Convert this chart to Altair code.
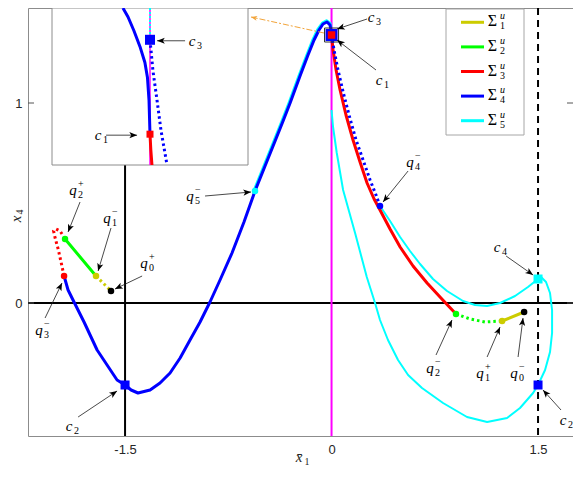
import math
import altair as alt
import pandas as pd

# ---------------- values (x̄1, x4) ----------------
# Σ4 (blue) solid branch: q3- -> c2 -> ... -> peak -> c1
S4_x = [-1.943, -1.914, -1.878, -1.798, -1.703, -1.558, -1.5, -1.456, -1.406, -1.318, -1.246,
        -1.173, -1.100, -1.028, -0.955, -0.883, -0.810, -0.723, -0.636, -0.556, -0.483, -0.410,
        -0.352, -0.301, -0.229, -0.171, -0.127, -0.091, -0.062, -0.033, -0.011, 0.0, 0.0]
S4_y = [0.135, 0.065, 0.015, -0.095, -0.235, -0.385, -0.41, -0.435, -0.45, -0.435, -0.40,
        -0.35, -0.275, -0.185, -0.095, 0.005, 0.115, 0.25, 0.405, 0.56, 0.685, 0.81,
        0.91, 1.0, 1.135, 1.24, 1.315, 1.365, 1.395, 1.405, 1.39, 1.35, 1.34]
# Σ4 dotted branch: c3 -> q4-
S4d_x = [0.0, 0.018, 0.047, 0.084, 0.127, 0.178, 0.229, 0.280, 0.323, 0.352]
S4d_y = [1.34, 1.265, 1.165, 1.055, 0.94, 0.815, 0.715, 0.615, 0.54, 0.485]
# Σ3 (red) solid: c1 -> q2-
S3_x = [0.0, 0.011, 0.033, 0.062, 0.105, 0.156, 0.207, 0.258, 0.309, 0.352, 0.425, 0.498,
        0.592, 0.694, 0.788, 0.904]
S3_y = [1.34, 1.265, 1.165, 1.065, 0.94, 0.815, 0.705, 0.60, 0.52, 0.465, 0.37, 0.28,
        0.185, 0.10, 0.03, -0.055]
# Σ3 dotted (left)
S3d_x = [-1.943, -1.965, -1.986, -2.008, -2.019, -2.001, -1.972, -1.958]
S3d_y = [0.135, 0.205, 0.27, 0.325, 0.36, 0.37, 0.36, 0.345]
# Σ2 (green)
S2_x = [-1.936, -1.711]
S2_y = [0.32, 0.135]
S2d_x = [0.904, 1.006, 1.115, 1.239]
S2d_y = [-0.055, -0.08, -0.095, -0.09]
# Σ1 (yellow)
S1_x = [1.239, 1.399]
S1_y = [-0.09, -0.045]
S1d_x = [-1.711, -1.602]
S1d_y = [0.135, 0.06]
# Σ5 (cyan): left branch q5- -> peak, right loop
S5a_x = [-0.568, -0.495, -0.422, -0.364, -0.313, -0.241, -0.183, -0.139, -0.102, -0.068,
         -0.035, -0.008, 0.0]
S5a_y = [0.56, 0.685, 0.81, 0.91, 1.0, 1.135, 1.24, 1.317, 1.37, 1.402, 1.414, 1.40, 1.375]
S5b_x = [0.0, 0.011, 0.038, 0.084, 0.171, 0.256, 0.316, 0.352, 0.410, 0.483, 0.556, 0.657,
         0.810, 0.984, 1.130, 1.275, 1.369, 1.464, 1.5, 1.551, 1.587, 1.602, 1.602, 1.587,
         1.558, 1.522, 1.5, 1.427, 1.333, 1.224, 1.130, 1.042, 0.955, 0.839, 0.737, 0.643,
         0.570, 0.498, 0.425, 0.352]
S5b_y = [0.965, 0.88, 0.75, 0.565, 0.35, 0.13, 0.0, -0.085, -0.185, -0.285, -0.36, -0.425,
         -0.50, -0.57, -0.595, -0.575, -0.525, -0.45, -0.41, -0.335, -0.245, -0.15, -0.035, 0.05,
         0.105, 0.13, 0.12, 0.08, 0.035, 0.0, -0.015, -0.01, 0.01, 0.06, 0.12, 0.195,
         0.26, 0.33, 0.41, 0.485]

YEL, GRN, RED, BLU, CYA, MAG, BLK = "#cccc00", "#00ff00", "#ff0000", "#0000ff", "#00ffff", "#ff00ff", "#000000"

# special points q
Q_x = [-1.602, 1.399, -1.711, 1.239, -1.936, 0.904, -1.943, 0.352, -0.556]
Q_y = [0.06, -0.045, 0.135, -0.09, 0.32, -0.055, 0.135, 0.485, 0.56]
Q_col = [BLK, BLK, YEL, YEL, GRN, GRN, RED, BLU, CYA]
# corner points c
C_x = [0.0, 0.0, -1.5, 1.5, 1.5]
C_y = [1.34, 1.34, -0.41, -0.41, 0.12]
C_size = [144, 56, 81, 81, 81]
C_col = [BLU, RED, BLU, BLU, CYA]

# annotations: label position, arrow start, arrow tip
A_base = ["q", "q", "q", "q", "c", "q", "q", "c", "c", "c", "q", "q", "q", "c"]
A_sup = ["+", "−", "+", "−", "", "−", "−", "", "", "", "−", "+", "−", ""]
A_sub = ["2", "1", "0", "3", "2", "5", "4", "3", "1", "4", "2", "1", "0", "2"]
A_lx = [-1.856, -1.609, -1.340, -2.103, -1.885, -1.006, 0.592, 0.309, 0.367, 1.224, 0.737, 1.100, 1.347, 1.703]
A_ly = [0.565, 0.425, 0.20, -0.135, -0.615, 0.535, 0.705, 1.43, 1.115, 0.28, -0.325, -0.35, -0.35, -0.585]
A_x0 = [-1.827, -1.602, -1.376, -2.081, -1.841, -0.919, 0.556, 0.258, 0.323, 1.268, 0.759, 1.130, 1.355, 1.667]
A_y0 = [0.505, 0.375, 0.135, -0.075, -0.57, 0.535, 0.66, 1.42, 1.165, 0.235, -0.26, -0.27, -0.27, -0.535]
A_x1 = [-1.914, -1.696, -1.573, -1.958, -1.558, -0.585, 0.374, 0.040, 0.040, 1.464, 0.875, 1.224, 1.391, 1.536]
A_y1 = [0.355, 0.16, 0.07, 0.10, -0.44, 0.555, 0.505, 1.37, 1.315, 0.14, -0.085, -0.12, -0.075, -0.435]

# zoom window and connector
ZOOM_X = [-0.051, 0.051]
ZOOM_Y = [1.305, 1.375]
CONN = [-0.055, 1.35, -0.585, 1.43]

# inset (magnified view around c1/c3)
IN_X = [-0.05, 0.05]
IN_Y = [1.30, 1.38]
IB_x = [-0.0138, -0.0112, -0.0082, -0.0051, -0.0026, -0.0013, -0.0005, 0.0]
IB_y = [1.38, 1.3754, 1.3684, 1.3603, 1.3522, 1.3446, 1.3329, 1.3157]
IR_x = [0.0, 0.0004, 0.001]
IR_y = [1.3157, 1.308, 1.30]
IBd_x = [0.0, 0.0015, 0.0036, 0.0056, 0.0087]
IBd_y = [1.3638, 1.348, 1.3329, 1.3177, 1.30]
IC_x = [0.0, 0.0]
IC_y = [1.38, 1.3638]
IS_x = [0.0, 0.0]
IS_y = [1.3638, 1.3157]
IS_size = [100, 49]
IS_col = [BLU, RED]
IA_sub = ["3", "1"]
IA_lx = [0.023, -0.025]
IA_ly = [1.3633, 1.3152]
IA_x0 = [0.0179, -0.0224]
IA_x1 = [0.0036, -0.0066]

LEG_sub = ["1", "2", "3", "4", "5"]
LEG_col = [YEL, GRN, RED, BLU, CYA]

X_TICKS = [-1.5, 0, 1.5]
Y_TICKS = [0, 1]

# ---------------- layout ----------------
W, H = 545, 428
XMIN, XMAX = -2.205, 1.754
YMIN, YMAX = -0.665, 1.475
SX = W / (XMAX - XMIN)
SY = H / (YMAX - YMIN)
IXR = [24, 220]
IYR = [157, 0]
ISX = (IXR[1] - IXR[0]) / (IN_X[1] - IN_X[0])
ISY = (IYR[0] - IYR[1]) / (IN_Y[1] - IN_Y[0])
ARROW = "M0,0L0.4,1L0,0.75L-0.4,1Z"
SERIF = "Liberation Serif"
SANS = "Liberation Sans"


def ang(x0, y0, x1, y1, sx, sy):
    dxp = (x1 - x0) * sx
    dyp = -(y1 - y0) * sy
    return math.degrees(math.atan2(dxp, -dyp)) % 360


LBL = ("datum.value === 0 ? '0' : (datum.value < 0 ? '-' + format(-datum.value, '.1~f') "
       ": format(datum.value, '.1~f'))")
XAX = alt.Axis(values=X_TICKS, labelExpr=LBL, ticks=False,
               domain=False, grid=False, labelFont=SANS, labelFontSize=13, labelColor="#262626",
               labelPadding=7)
YAX = alt.Axis(values=Y_TICKS, labelExpr=LBL, ticks=False, domain=False, grid=False, labelFont=SANS,
               labelFontSize=13, labelColor="#262626", labelPadding=6)


def X(f):
    return alt.X(f + ":Q", scale=alt.Scale(domain=[XMIN, XMAX], nice=False, zero=False), axis=XAX, title=None)


def Y(f):
    return alt.Y(f + ":Q", scale=alt.Scale(domain=[YMIN, YMAX], nice=False, zero=False), axis=YAX, title=None)


def IXe(f):
    return alt.X(f + ":Q", scale=alt.Scale(domain=IN_X, range=IXR, nice=False, zero=False), axis=None)


def IYe(f):
    return alt.Y(f + ":Q", scale=alt.Scale(domain=IN_Y, range=IYR, nice=False, zero=False), axis=None)


def PX(f):
    return alt.X(f + ":Q", scale=alt.Scale(domain=[0, W], range=[0, W], nice=False, zero=False), axis=None)


def PY(f):
    return alt.Y(f + ":Q", scale=alt.Scale(domain=[0, H], range=[0, H], nice=False, zero=False), axis=None)


def curves(specs):
    rows = []
    for name, xs, ys, col in specs:
        for i, (a, b) in enumerate(zip(xs, ys)):
            rows.append({"c": name, "i": i, "x": a, "y": b, "col": col})
    return pd.DataFrame(rows)


def line_layer(df, enc_x, enc_y, **kw):
    return alt.Chart(df).mark_line(**kw).encode(
        x=enc_x("x"), y=enc_y("y"), order="i:Q", detail="c:N",
        color=alt.Color("col:N", scale=None))


# ---------------- main group ----------------
hline = alt.Chart(pd.DataFrame({"y": [0.0]})).mark_rule(color="black", strokeWidth=2).encode(y=Y("y"))
vsolid = alt.Chart(pd.DataFrame({"x": [-1.5]})).mark_rule(color="black", strokeWidth=2).encode(x=X("x"))
vdash = alt.Chart(pd.DataFrame({"x": [1.5]})).mark_rule(color="black", strokeWidth=2, strokeDash=[7, 5]).encode(x=X("x"))
vmag = alt.Chart(pd.DataFrame({"x": [0.0]})).mark_rule(color=MAG, strokeWidth=2).encode(x=X("x"))

cyan = line_layer(curves([("a", S5a_x, S5a_y, CYA), ("b", S5b_x, S5b_y, CYA)]), X, Y,
                  strokeWidth=2, strokeJoin="round")
solid = line_layer(curves([("s4", S4_x, S4_y, BLU), ("s3", S3_x, S3_y, RED),
                           ("s2", S2_x, S2_y, GRN), ("s1", S1_x, S1_y, YEL)]), X, Y,
                   strokeWidth=3, strokeJoin="round", strokeCap="round")
dotted = line_layer(curves([("s4d", S4d_x, S4d_y, BLU), ("s3d", S3d_x, S3d_y, RED),
                            ("s2d", S2d_x, S2d_y, GRN), ("s1d", S1d_x, S1d_y, YEL)]), X, Y,
                    strokeWidth=3, strokeDash=[2.5, 3], strokeCap="butt")

zoombox = alt.Chart(pd.DataFrame({"x0": [ZOOM_X[0]], "x1": [ZOOM_X[1]], "y0": [ZOOM_Y[0]], "y1": [ZOOM_Y[1]]})).mark_rect(
    fillOpacity=0, stroke="#333333", strokeWidth=1).encode(x=X("x0"), x2=alt.X2("x1"), y=Y("y0"), y2=alt.Y2("y1"))

conn_df = pd.DataFrame({"x0": [CONN[0]], "y0": [CONN[1]], "x1": [CONN[2]], "y1": [CONN[3]],
                        "ang": [ang(*CONN, SX, SY)]})
conn_line = alt.Chart(conn_df).mark_rule(color="#f2a43a", strokeWidth=1, strokeDash=[6, 2, 2, 2]).encode(
    x=X("x0"), y=Y("y0"), x2=alt.X2("x1"), y2=alt.Y2("y1"))
conn_head = alt.Chart(conn_df).mark_point(shape=ARROW, filled=True, size=150, color="#f2a43a", opacity=1, strokeWidth=0).encode(
    x=X("x1"), y=Y("y1"), angle=alt.Angle("ang:Q", scale=None))

qpts = alt.Chart(pd.DataFrame({"x": Q_x, "y": Q_y, "col": Q_col})).mark_circle(size=42, opacity=1).encode(
    x=X("x"), y=Y("y"), color=alt.Color("col:N", scale=None))
cpts = alt.Chart(pd.DataFrame({"x": C_x, "y": C_y, "s": C_size, "col": C_col, "o": list(range(len(C_x)))})).mark_square(opacity=1).encode(
    x=X("x"), y=Y("y"), size=alt.Size("s:Q", scale=None), color=alt.Color("col:N", scale=None), order="o:Q")

ann = pd.DataFrame({"base": A_base, "sup": A_sup, "sub": A_sub, "lx": A_lx, "ly": A_ly,
                    "x0": A_x0, "y0": A_y0, "x1": A_x1, "y1": A_y1})
ann["ang"] = [ang(a, b, c, d, SX, SY) for a, b, c, d in zip(A_x0, A_y0, A_x1, A_y1)]
ann_line = alt.Chart(ann).mark_rule(color="#1a1a1a", strokeWidth=0.8).encode(
    x=X("x0"), y=Y("y0"), x2=alt.X2("x1"), y2=alt.Y2("y1"))
ann_head = alt.Chart(ann).mark_point(shape=ARROW, filled=True, size=240, color="black", opacity=1, strokeWidth=0).encode(
    x=X("x1"), y=Y("y1"), angle=alt.Angle("ang:Q", scale=None))
ann_base = alt.Chart(ann).mark_text(font=SERIF, fontStyle="italic", fontSize=15, dx=-3, align="center",
                                    baseline="middle", color="black").encode(x=X("lx"), y=Y("ly"), text="base:N")
ann_sup = alt.Chart(ann[ann["sup"] != ""]).mark_text(font=SERIF, fontSize=10, dx=2, dy=-6, align="left",
                                                     baseline="middle", color="black").encode(x=X("lx"), y=Y("ly"), text="sup:N")
ann_sub = alt.Chart(ann).mark_text(font=SERIF, fontSize=10, dx=2, dy=5, align="left",
                                   baseline="middle", color="black").encode(x=X("lx"), y=Y("ly"), text="sub:N")

tick_df = pd.DataFrame({"x0": [XMIN, XMAX - 6 / SX, XMIN, XMAX - 6 / SX],
                        "x1": [XMIN + 6 / SX, XMAX, XMIN + 6 / SX, XMAX],
                        "y": [1.0, 1.0, 0.0, 0.0]})
ticks = alt.Chart(tick_df).mark_rule(color="#555555", strokeWidth=1).encode(x=X("x0"), x2=alt.X2("x1"), y=Y("y"))

main = alt.layer(hline, vsolid, vdash, vmag, cyan, solid, dotted, zoombox, conn_line, conn_head,
                 qpts, cpts, ann_line, ann_head, ann_base, ann_sup, ann_sub, ticks)

# ---------------- pixel group: legend and axis titles ----------------
leg = pd.DataFrame({"sub": LEG_sub, "col": LEG_col})
leg["ly"] = [14.3 + 24.6 * i for i in range(len(LEG_sub))]
leg["lx0"] = 433
leg["lx1"] = 456
leg["tx"] = 464.5
leg["sx"] = 472
leg["sig"] = "Σ"
leg["u"] = "u"
leg_box = alt.Chart(pd.DataFrame({"x0": [418], "x1": [496], "y0": [1], "y1": [127]})).mark_rect(
    fill="white", stroke="#a6a6a6", strokeWidth=1).encode(x=PX("x0"), x2=alt.X2("x1"), y=PY("y0"), y2=alt.Y2("y1"))
leg_line = alt.Chart(leg).mark_rule(strokeWidth=3).encode(
    x=PX("lx0"), x2=alt.X2("lx1"), y=PY("ly"), color=alt.Color("col:N", scale=None))
leg_sig = alt.Chart(leg).mark_text(font=SERIF, fontSize=16, align="center", baseline="middle", dy=-1, color="black").encode(
    x=PX("tx"), y=PY("ly"), text="sig:N")
leg_u = alt.Chart(leg).mark_text(font=SERIF, fontStyle="italic", fontSize=10, align="left", baseline="middle", dy=-6, color="black").encode(
    x=PX("sx"), y=PY("ly"), text="u:N")
leg_d = alt.Chart(leg).mark_text(font=SERIF, fontSize=10, align="left", baseline="middle", dy=4, color="black").encode(
    x=PX("sx"), y=PY("ly"), text="sub:N")

titles = pd.DataFrame({"t": ["x̄", "1"], "px": [271, 279], "py": [449, 454]})
t_base = alt.Chart(titles.iloc[[0]]).mark_text(font=SERIF, fontStyle="italic", fontSize=15, align="center", baseline="middle", color="#262626").encode(
    x=PX("px"), y=PY("py"), text="t:N")
t_sub = alt.Chart(titles.iloc[[1]]).mark_text(font=SERIF, fontSize=10, align="center", baseline="middle", color="#262626").encode(
    x=PX("px"), y=PY("py"), text="t:N")
ytitles = pd.DataFrame({"t": ["x", "4"], "px": [-12, -8], "py": [211, 204]})
y_base = alt.Chart(ytitles.iloc[[0]]).mark_text(font=SERIF, fontStyle="italic", fontSize=15, angle=270, align="center", baseline="middle", color="#262626").encode(
    x=PX("px"), y=PY("py"), text="t:N")
y_sub = alt.Chart(ytitles.iloc[[1]]).mark_text(font=SERIF, fontSize=10, angle=270, align="center", baseline="middle", color="#262626").encode(
    x=PX("px"), y=PY("py"), text="t:N")

pix = alt.layer(leg_box, leg_line, leg_sig, leg_u, leg_d, t_base, t_sub, y_base, y_sub)

# ---------------- inset group ----------------
in_bg = alt.Chart(pd.DataFrame({"x0": [IN_X[0]], "x1": [IN_X[1]], "y0": [IN_Y[0]], "y1": [IN_Y[1]]})).mark_rect(
    fill="white", stroke="#8c8c8c", strokeWidth=1).encode(x=IXe("x0"), x2=alt.X2("x1"), y=IYe("y0"), y2=alt.Y2("y1"))
in_mag = alt.Chart(pd.DataFrame({"x": [0.0], "y0": [IN_Y[0]], "y1": [IN_Y[1]]})).mark_rule(color=MAG, strokeWidth=1.5).encode(
    x=IXe("x"), y=IYe("y0"), y2=alt.Y2("y1"))
in_cyan = line_layer(curves([("c", IC_x, IC_y, CYA)]), IXe, IYe, strokeWidth=2, strokeDash=[2, 2])
in_solid = line_layer(curves([("b", IB_x, IB_y, BLU), ("r", IR_x, IR_y, RED)]), IXe, IYe,
                      strokeWidth=3, strokeJoin="round")
in_dot = line_layer(curves([("bd", IBd_x, IBd_y, BLU)]), IXe, IYe, strokeWidth=3, strokeDash=[2.5, 3])
in_sq = alt.Chart(pd.DataFrame({"x": IS_x, "y": IS_y, "s": IS_size, "col": IS_col})).mark_square(opacity=1).encode(
    x=IXe("x"), y=IYe("y"), size=alt.Size("s:Q", scale=None), color=alt.Color("col:N", scale=None))
ia = pd.DataFrame({"sub": IA_sub, "lx": IA_lx, "ly": IA_ly, "x0": IA_x0, "x1": IA_x1, "base": ["c", "c"]})
ia["ang"] = [ang(a, b, c, b, ISX, ISY) for a, b, c in zip(IA_x0, IA_ly, IA_x1)]
in_aline = alt.Chart(ia).mark_rule(color="#1a1a1a", strokeWidth=0.8).encode(
    x=IXe("x0"), x2=alt.X2("x1"), y=IYe("ly"))
in_ahead = alt.Chart(ia).mark_point(shape=ARROW, filled=True, size=240, color="black", opacity=1, strokeWidth=0).encode(
    x=IXe("x1"), y=IYe("ly"), angle=alt.Angle("ang:Q", scale=None))
in_base = alt.Chart(ia).mark_text(font=SERIF, fontStyle="italic", fontSize=15, dx=-3, align="center", baseline="middle", color="black").encode(
    x=IXe("lx"), y=IYe("ly"), text="base:N")
in_sub = alt.Chart(ia).mark_text(font=SERIF, fontSize=10, dx=2, dy=5, align="left", baseline="middle", color="black").encode(
    x=IXe("lx"), y=IYe("ly"), text="sub:N")

inset = alt.layer(in_bg, in_mag, in_cyan, in_solid, in_dot, in_sq, in_aline, in_ahead, in_base, in_sub)

chart = alt.layer(main, pix, inset).resolve_scale(x="independent", y="independent").properties(
    width=W, height=H,
    padding={"left": 20, "top": 0, "right": 0, "bottom": 30},
    autosize=alt.AutoSizeParams(type="none"),
    background="white",
).configure_view(stroke="#8c8c8c", strokeWidth=1)

chart.save("out.html", embed_options={"renderer": "svg", "actions": False})
